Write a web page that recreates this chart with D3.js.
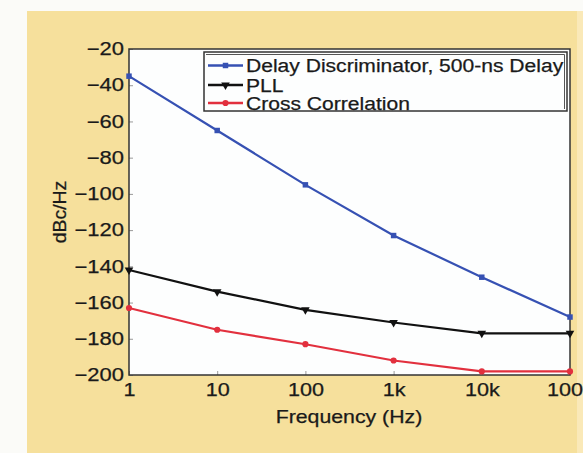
<!DOCTYPE html>
<html><head><meta charset="utf-8">
<script src="https://cdn.jsdelivr.net/npm/d3@7"></script>
<style>body{margin:0;background:#fbfbf8}svg{display:block}text{font-family:"Liberation Sans",Arial,sans-serif}</style>
</head><body><svg id="c" width="583" height="453"></svg>
<script>
const freqs = [1, 10, 100, 1000, 10000, 100000];
const xTickLabels = ["1", "10", "100", "1k", "10k", "100k"];
const yTicks = [-20, -40, -60, -80, -100, -120, -140, -160, -180, -200];
const seriesNames = ["Delay Discriminator, 500-ns Delay", "PLL", "Cross Correlation"];
const delayDisc = [-35, -65, -95, -123, -146, -168];
const pll = [-142, -154, -164, -171, -177, -177];
const crossCorr = [-163, -175, -183, -192, -198, -198];

function widen(sel, f) {
  sel.each(function() {
    const w = this.getComputedTextLength();
    d3.select(this).attr("textLength", w * f).attr("lengthAdjust", "spacingAndGlyphs");
  });
}
function ink(sel, size) {
  sel.attr("font-size", size).attr("fill", "#1a1a1a").attr("stroke", "#1a1a1a").attr("stroke-width", 0.25);
}

const svg = d3.select("#c");
svg.append("rect").attr("x", 27).attr("y", 11).attr("width", 556).attr("height", 442).attr("fill", "#f6e09c");
svg.append("rect").attr("x", 577).attr("y", 11).attr("width", 6).attr("height", 442).attr("fill", "#fae9b8");

const L = 129, R = 570, T = 49, B = 375;
const x = d3.scaleLog().domain([1, 100000]).range([L, R]);
const y = d3.scaleLinear().domain([-200, -20]).range([B, T]);

svg.append("rect").attr("x", L).attr("y", T).attr("width", R - L).attr("height", B - T).attr("fill", "#fdfefe");

const gy = svg.append("g").attr("transform", `translate(${L},0)`)
  .call(d3.axisLeft(y).tickValues(yTicks).tickSize(-4).tickPadding(5).tickFormat(d => "\u2212" + Math.abs(d)));
gy.select(".domain").remove();
gy.selectAll("line").attr("stroke", "#999");
ink(gy.selectAll("text"), 18);
widen(gy.selectAll("text"), 1.22);

const gx = svg.append("g").attr("transform", `translate(0,${B})`)
  .call(d3.axisBottom(x).tickValues(freqs).tickSize(-4).tickPadding(8).tickFormat((d, i) => xTickLabels[i]));
gx.select(".domain").remove();
gx.selectAll("line").attr("stroke", "#999");
ink(gx.selectAll("text"), 18);
widen(gx.selectAll("text"), 1.2);

svg.append("rect").attr("x", L).attr("y", T).attr("width", R - L).attr("height", B - T)
  .attr("fill", "none").attr("stroke", "#333").attr("stroke-width", 1.5);

const series = [
  {name: seriesNames[0], vals: delayDisc, color: "#3651b3", sym: d3.symbolSquare, size: 30},
  {name: seriesNames[1], vals: pll, color: "#111", sym: d3.symbolTriangle, size: 32, rot: 180},
  {name: seriesNames[2], vals: crossCorr, color: "#e2303e", sym: d3.symbolCircle, size: 30}
];
const line = d3.line().x((d, i) => x(freqs[i])).y(d => y(d));
series.forEach(s => {
  svg.append("path").attr("d", line(s.vals)).attr("fill", "none").attr("stroke", s.color).attr("stroke-width", 2.2);
  svg.selectAll(null).data(s.vals).enter().append("path")
    .attr("d", d3.symbol().type(s.sym).size(s.size))
    .attr("transform", (d, i) => `translate(${x(freqs[i])},${y(d)}) rotate(${s.rot || 0})`)
    .attr("fill", s.color);
});

// legend
const lg = svg.append("g");
lg.append("rect").attr("x", 204).attr("y", 52).attr("width", 363).attr("height", 59)
  .attr("fill", "#fdfefe").attr("stroke", "#333").attr("stroke-width", 1.5);
lg.append("path").attr("d", "M206,54.5H564.5V109").attr("fill", "none").attr("stroke", "#555").attr("stroke-width", 1);
const rows = [65.5, 85, 103];
series.forEach((s, i) => {
  lg.append("line").attr("x1", 208).attr("x2", 243).attr("y1", rows[i]).attr("y2", rows[i])
    .attr("stroke", s.color).attr("stroke-width", 2.5);
  lg.append("path").attr("d", d3.symbol().type(s.sym).size(s.size))
    .attr("transform", `translate(225.5,${rows[i]}) rotate(${s.rot || 0})`).attr("fill", s.color);
  const t = lg.append("text").attr("x", 246).attr("y", rows[i] + 6.5).text(s.name);
  ink(t, 18);
  widen(t, 1.17);
});

const yl = svg.append("text").attr("transform", "translate(66,212) rotate(-90)").attr("text-anchor", "middle").text("dBc/Hz");
ink(yl, 18);
widen(yl, 1.08);
const xl = svg.append("text").attr("x", 349).attr("y", 423).attr("text-anchor", "middle").text("Frequency (Hz)");
ink(xl, 18.5);
widen(xl, 1.15);
</script></body></html>
